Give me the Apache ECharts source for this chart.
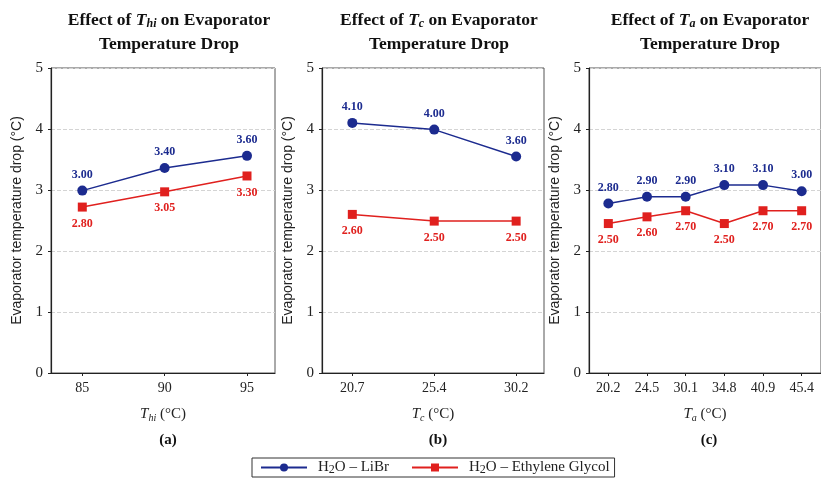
<!DOCTYPE html>
<html>
<head>
<meta charset="utf-8">
<script src="https://cdn.jsdelivr.net/npm/echarts@6/dist/echarts.min.js"></script>
<style>
  html, body { margin: 0; padding: 0; background: #fff; }
  #chart { width: 821px; height: 480px; }
</style>
</head>
<body>
<div id="chart"></div>
<script>
// categories per panel
const thiCats = ['85', '90', '95'];
const tcCats = ['20.7', '25.4', '30.2'];
const taCats = ['20.2', '24.5', '30.1', '34.8', '40.9', '45.4'];

// plotted values
const thiLiBr = [2.99, 3.36, 3.56];
const thiGlycol = [2.72, 2.97, 3.23];
const tcLiBr = [4.10, 3.99, 3.55];
const tcGlycol = [2.60, 2.49, 2.49];
const taLiBr = [2.78, 2.89, 2.89, 3.08, 3.08, 2.98];
const taGlycol = [2.45, 2.56, 2.66, 2.45, 2.66, 2.66];

// printed data labels
const thiLiBrLabels = ['3.00', '3.40', '3.60'];
const thiGlycolLabels = ['2.80', '3.05', '3.30'];
const tcLiBrLabels = ['4.10', '4.00', '3.60'];
const tcGlycolLabels = ['2.60', '2.50', '2.50'];
const taLiBrLabels = ['2.80', '2.90', '2.90', '3.10', '3.10', '3.00'];
const taGlycolLabels = ['2.50', '2.60', '2.70', '2.50', '2.70', '2.70'];

const yTicks = [0, 1, 2, 3, 4, 5];

const BLUE = '#1c2b8f';
const RED = '#e0201e';
const SERIF = '"Liberation Serif", "Times New Roman", serif';
const SANS = '"Liberation Sans", Arial, sans-serif';

const chart = echarts.init(document.getElementById('chart'));

const subRich = {
  n: { fontFamily: SERIF, fontSize: 15, color: '#222' },
  i: { fontFamily: SERIF, fontSize: 15, fontStyle: 'italic', color: '#222' },
  s: { fontFamily: SERIF, fontSize: 10, fontStyle: 'italic', color: '#222', padding: [7, 0, 0, 0] },
};
const titleRich = {
  b: { fontFamily: SERIF, fontSize: 17.5, fontWeight: 'bold', color: '#111', lineHeight: 24 },
  i: { fontFamily: SERIF, fontSize: 17.5, fontWeight: 'bold', fontStyle: 'italic', color: '#111', lineHeight: 24 },
  s: { fontFamily: SERIF, fontSize: 12, fontWeight: 'bold', fontStyle: 'italic', color: '#111', padding: [8, 0, 0, 0] },
};

const grids = [
  { left: 51, right: 546, top: 68, bottom: 107 },
  { left: 322, right: 277, top: 68, bottom: 107 },
  { left: 589, right: -10, top: 68, bottom: 107 },
];
const xRanges = [[-0.38, 2.34], [-0.37, 2.34], [-0.5, 5.5]];
const catSets = [thiCats, tcCats, taCats];
const xNames = ['{i|T}{s|hi}{n| (°C)}', '{i|T}{s|c}{n| (°C)}', '{i|T}{s|a}{n| (°C)}'];

const xAxes = catSets.map((cats, k) => ({
  type: 'value',
  gridIndex: k,
  min: xRanges[k][0],
  max: xRanges[k][1],
  name: xNames[k],
  nameLocation: 'middle',
  nameGap: 33,
  nameTextStyle: { rich: subRich },
  axisLine: { onZero: false, lineStyle: { color: '#222', width: 1.2 } },
  axisTick: { show: true, length: 3, customValues: cats.map((c, j) => j), lineStyle: { color: '#222' } },
  axisLabel: {
    customValues: cats.map((c, j) => j),
    formatter: (v) => cats[Math.round(v)],
    fontFamily: SERIF, fontSize: 14, color: '#222', margin: 8,
  },
  splitLine: { show: false },
}));

const yAxes = [0, 1, 2].map((k) => ({
  type: 'value',
  gridIndex: k,
  min: yTicks[0],
  max: yTicks[yTicks.length - 1],
  interval: 1,
  name: 'Evaporator temperature drop (°C)',
  nameLocation: 'middle',
  nameRotate: 90,
  nameGap: 27,
  nameTextStyle: { fontFamily: SANS, fontSize: 14, color: '#222' },
  axisLine: { show: true, onZero: false, lineStyle: { color: '#222', width: 1.2 } },
  axisTick: { show: true, length: 3, lineStyle: { color: '#222' } },
  axisLabel: { fontFamily: SERIF, fontSize: 15, color: '#222', margin: 8 },
  splitLine: { show: true, lineStyle: { color: '#d4d4d4', type: 'dashed' } },
}));

function makeSeries(k, name, values, labels, color, symbol, above) {
  return {
    name: name,
    type: 'line',
    xAxisIndex: k,
    yAxisIndex: k,
    data: values.map((v, j) => [j, v]),
    color: color,
    symbol: symbol,
    symbolSize: symbol === 'circle' ? 10 : 9,
    lineStyle: { width: 1.5, color: color },
    itemStyle: { color: color },
    label: {
      show: true,
      position: above ? 'top' : 'bottom',
      distance: above ? 5 : 6,
      formatter: (p) => labels[p.dataIndex],
      fontFamily: SERIF, fontSize: 12, fontWeight: 'bold', color: color,
    },
    z: 3,
  };
}

const LIBR = 'libr';
const GLY = 'gly';
const panelLabel = { fontFamily: SERIF, fontSize: 15, fontWeight: 'bold', color: '#111' };

chart.setOption({
  animation: false,
  backgroundColor: '#fff',
  title: [
    { text: '{b|Effect of }{i|T}{s|hi}{b| on Evaporator}\n{b|Temperature Drop}', left: 164, top: 3, textAlign: 'center', textStyle: { rich: titleRich } },
    { text: '{b|Effect of }{i|T}{s|c}{b| on Evaporator}\n{b|Temperature Drop}', left: 434, top: 3, textAlign: 'center', textStyle: { rich: titleRich } },
    { text: '{b|Effect of }{i|T}{s|a}{b| on Evaporator}\n{b|Temperature Drop}', left: 705, top: 3, textAlign: 'center', textStyle: { rich: titleRich } },
    { text: '(a)', left: 163, top: 428, textAlign: 'center', textStyle: panelLabel },
    { text: '(b)', left: 433, top: 428, textAlign: 'center', textStyle: panelLabel },
    { text: '(c)', left: 704, top: 428, textAlign: 'center', textStyle: panelLabel },
  ],
  legend: {
    data: [LIBR, GLY],
    left: 252,
    top: 458,
    orient: 'horizontal',
    itemWidth: 46,
    itemHeight: 10,
    itemGap: 22,
    padding: [2, 5, 1, 8],
    borderColor: '#333',
    borderWidth: 1,
    formatter: (n) => n === LIBR ? '{n|H}{d|2}{n|O – LiBr}' : '{n|H}{d|2}{n|O – Ethylene Glycol}',
    textStyle: {
      padding: [0, 0, 0, 6],
      rich: {
        n: { fontFamily: SERIF, fontSize: 15, color: '#222' },
        d: { fontFamily: SERIF, fontSize: 12, color: '#222', padding: [5, 0, 0, 0] },
      },
    },
  },
  grid: grids.map((g) => Object.assign({ show: true, borderColor: '#555', borderWidth: 1, backgroundColor: 'transparent' }, g)),
  xAxis: xAxes,
  yAxis: yAxes,
  series: [
    makeSeries(0, LIBR, thiLiBr, thiLiBrLabels, BLUE, 'circle', true),
    makeSeries(0, GLY, thiGlycol, thiGlycolLabels, RED, 'rect', false),
    makeSeries(1, LIBR, tcLiBr, tcLiBrLabels, BLUE, 'circle', true),
    makeSeries(1, GLY, tcGlycol, tcGlycolLabels, RED, 'rect', false),
    makeSeries(2, LIBR, taLiBr, taLiBrLabels, BLUE, 'circle', true),
    makeSeries(2, GLY, taGlycol, taGlycolLabels, RED, 'rect', false),
  ],
});
</script>
</body>
</html>
